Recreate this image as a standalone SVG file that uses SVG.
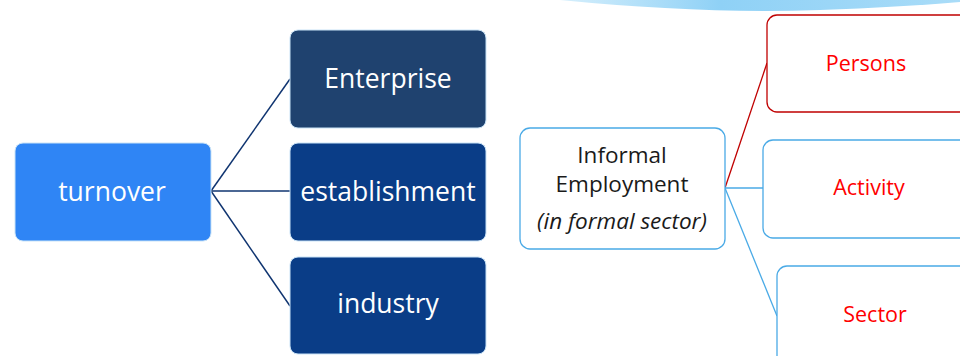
<svg xmlns="http://www.w3.org/2000/svg" width="960" height="356" viewBox="0 0 960 356">
<defs>
<linearGradient id="sw" x1="0" y1="0" x2="1" y2="0">
<stop offset="0" stop-color="#d6effc"/>
<stop offset="0.4" stop-color="#8fd1f6"/>
<stop offset="1" stop-color="#a9dcf8"/>
</linearGradient>
</defs>
<style>
.lt{font-family:"Open Sans",Lato,"Liberation Sans",sans-serif;text-anchor:middle}
.w{fill:#ffffff;font-size:26.5px}
.k{fill:#1a1a1a;font-size:22.5px}
.r{fill:#ff0000;font-size:21.5px}
.nb{stroke:#c9e3f7;stroke-width:1}
.ob{fill:#ffffff;stroke:#4aaae6;stroke-width:1.3}
</style>
<path d="M560 0 Q 700 14 820 10 Q 900 7 960 2 L960 0 Z" fill="url(#sw)"/>
<g id="connectors" fill="none">
<g stroke="#0f3470" stroke-width="1.5">
<line x1="211" y1="191" x2="290" y2="79"/>
<line x1="211" y1="191" x2="290" y2="191"/>
<line x1="211" y1="191" x2="290" y2="306"/>
</g>
<line x1="725" y1="188" x2="767" y2="63" stroke="#c00000" stroke-width="1.3"/>
<line x1="725" y1="188" x2="763" y2="188" stroke="#4aaae6" stroke-width="1.3"/>
<line x1="725" y1="188" x2="777" y2="316" stroke="#4aaae6" stroke-width="1.3"/>
</g>
<g id="turnover">
<rect x="15" y="143" width="196" height="98" rx="8" fill="#2f85f5" class="nb"/>
<text x="112" y="201" class="lt w">turnover</text>
</g>
<g id="enterprise">
<rect x="290" y="30" width="196" height="98" rx="8" fill="#1f426f" class="nb"/>
<text x="388" y="88" class="lt w">Enterprise</text>
</g>
<g id="establishment">
<rect x="290" y="143" width="196" height="98" rx="8" fill="#0a3d87" class="nb"/>
<text x="388" y="201" class="lt w">establishment</text>
</g>
<g id="industry">
<rect x="290" y="257" width="196" height="97" rx="8" fill="#0a3d87" class="nb"/>
<text x="388" y="313" class="lt w">industry</text>
</g>
<g id="informal">
<rect x="520" y="128" width="205" height="121" rx="10" class="ob"/>
<text x="622" y="163" class="lt k">Informal</text>
<text x="622" y="192" class="lt k">Employment</text>
<text x="622" y="229" class="lt k" font-style="italic" font-size="24px">(in formal sector)</text>
</g>
<g id="persons">
<rect x="767" y="15" width="210" height="97" rx="10" fill="#ffffff" stroke="#c00000" stroke-width="1.3"/>
<text x="866" y="71" class="lt r">Persons</text>
</g>
<g id="activity">
<rect x="763" y="140" width="214" height="98" rx="10" class="ob"/>
<text x="869" y="195" class="lt r">Activity</text>
</g>
<g id="sector">
<rect x="777" y="266" width="200" height="110" rx="10" class="ob"/>
<text x="875" y="322" class="lt r">Sector</text>
</g>
</svg>
